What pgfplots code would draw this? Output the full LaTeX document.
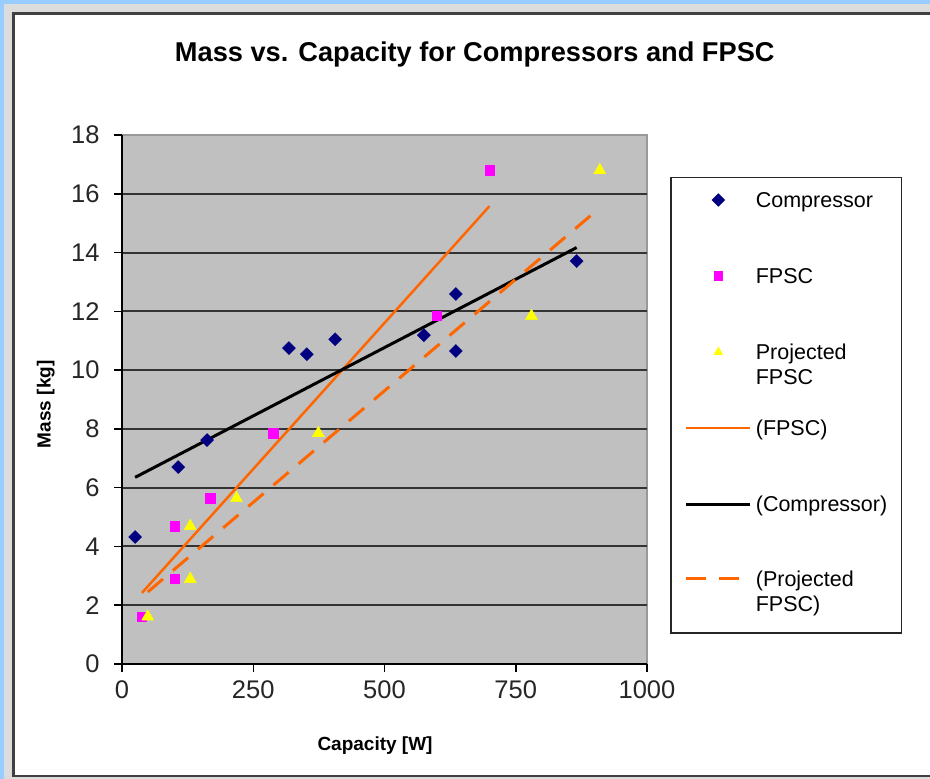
\documentclass[border=0pt]{standalone}
\usepackage{pgfplots}
\pgfplotsset{compat=1.18}
\usepackage{fontspec}
\setmainfont{Liberation Sans}

\definecolor{frameblue}{HTML}{99CCFF}
\definecolor{framegray}{HTML}{DCDCDC}
\definecolor{plotgray}{HTML}{C0C0C0}
\definecolor{xlnavy}{HTML}{000080}
\definecolor{xlmagenta}{HTML}{FF00FF}
\definecolor{xlyellow}{HTML}{FFFF00}
\definecolor{xlorange}{HTML}{FF6600}

% strut so every legend row has the same height
\newcommand{\lstrut}{\rule[-6pt]{0pt}{23pt}}

\begin{document}
\begin{tikzpicture}[x=1pt,y=1pt]
\useasboundingbox (0,0) rectangle (930,779);
\begin{scope}
  \clip (0,0) rectangle (930,779);
  \fill[frameblue] (0,0) rectangle (930,779);
  \fill[framegray] (4,0) rectangle (930,775);
  \draw[line width=2.5pt, draw=black!75, fill=white] (13.5,3) rectangle (950,765.5);
\end{scope}
\begin{axis}[
    at={(122pt,115pt)}, anchor=south west,
    scale only axis, width=525pt, height=529pt,
    xmin=0, xmax=1000, ymin=0, ymax=18,
    xtick={0,250,...,1000}, ytick={0,2,...,16},
    extra y ticks={18}, extra y tick style={grid=none},
    axis x line*=bottom, axis y line*=left,
    axis line style={-, line width=2pt, black},
    axis background/.style={fill=plotgray, draw=black!40, line width=2pt},
    tick align=outside, major tick length=8pt,
    tick style={black, line width=1.5pt},
    ymajorgrids, major grid style={black!80, line width=2pt},
    /pgf/number format/assume math mode=true,
    /pgf/number format/1000 sep={},
    tick label style={font=\fontsize{25.5}{30}\selectfont, text=black!85},
    yticklabel style={xshift=-11pt},
    xticklabel style={yshift=-5pt},
    title={Mass vs. Capacity for Compressors and FPSC},
    title style={font=\bfseries\fontsize{27.2}{30}\selectfont,
        at={(axis description cs:0.672,1.14)}, anchor=center},
    xlabel={Capacity [W]},
    xlabel style={font=\bfseries\fontsize{19}{22}\selectfont,
        at={(axis description cs:0.482,-0.155)}, anchor=center},
    ylabel={Mass [kg]},
    ylabel style={font=\bfseries\fontsize{19}{22}\selectfont,
        at={(axis description cs:-0.145,0.491)}, anchor=center},
    legend style={at={(axis description cs:1.044,0.921)}, anchor=north west,
        draw=black!85, line width=1.5pt, fill=white,
        font=\fontsize{21.5}{25}\selectfont,
        inner xsep=14pt, inner ysep=13pt, row sep=53pt, column sep=4pt,
        cells={anchor=base west},
        nodes={inner sep=0pt, text depth={}, text height={}}},
    legend image code/.code={
        \draw[mark repeat=2,mark phase=2]
        plot coordinates {(0pt,7.5pt) (32pt,7.5pt) (64pt,7.5pt)};},
    legend image post style={mark size=4pt},
]
% Compressor
\addplot[only marks, mark=square*, mark size=4.6pt, mark options={rotate=45},
    color=xlnavy] coordinates {
    (25,4.32) (107,6.70) (162,7.62) (318,10.75) (352,10.54)
    (406,11.05) (575,11.19) (636,12.59) (636,10.65) (866,13.71)};
% FPSC
\addplot[only marks, mark=square*, mark size=4.6pt, color=xlmagenta] coordinates {
    (38,1.61) (100,2.89) (100,4.69) (168,5.64) (288,7.85) (600,11.84) (700,16.80)};
% Projected FPSC
\addplot[only marks, mark=triangle*, mark size=7pt, color=xlyellow] coordinates {
    (49,1.61) (130,2.89) (130,4.69) (218,5.64) (374,7.85) (780,11.84) (910,16.80)};
% trend lines
\addplot[xlorange, line width=2.5pt] coordinates {(38,2.42) (700,15.58)};
\addplot[black, line width=3pt] coordinates {(25,6.35) (866,14.17)};
\addplot[xlorange, line width=3pt, dash pattern=on 20pt off 13pt]
    coordinates {(49,2.45) (910,15.52)};
\legend{\lstrut Compressor,
    \lstrut FPSC,
    \lstrut\rlap{\raisebox{-25pt}[0pt][0pt]{FPSC}}Projected,
    \lstrut(FPSC),
    \lstrut(Compressor),
    \rule[-34pt]{0pt}{23pt}\rlap{\raisebox{-25pt}[0pt][0pt]{FPSC)}}(Projected}
\end{axis}
\end{tikzpicture}
\end{document}
